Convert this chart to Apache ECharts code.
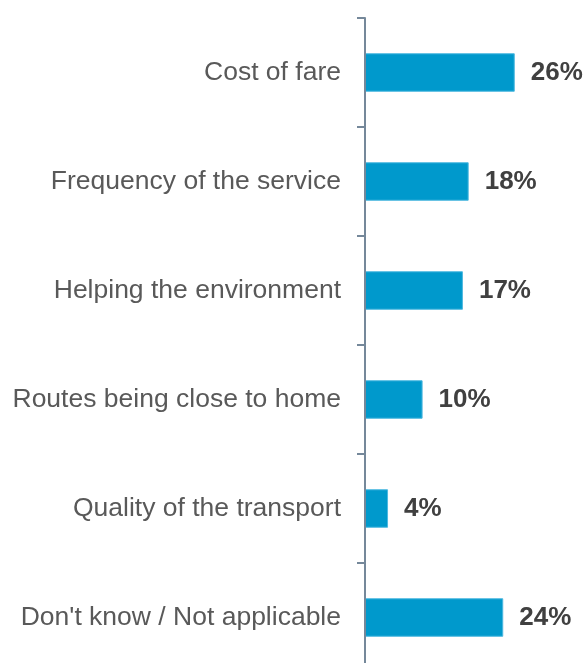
<!DOCTYPE html>
<html>
<head>
<meta charset="utf-8">
<script src="https://cdn.jsdelivr.net/npm/echarts@6/dist/echarts.min.js"></script>
<style>html,body{margin:0;padding:0;background:#fff;}#c{width:586px;height:663px;}</style>
</head>
<body>
<div id="c"></div>
<script>
var categories = ["Cost of fare", "Frequency of the service", "Helping the environment", "Routes being close to home", "Quality of the transport", "Don't know / Not applicable"];
var values = [26, 18, 17, 10, 4, 24];

var chart = echarts.init(document.getElementById('c'), null, {renderer: 'canvas'});
chart.setOption({
  animation: false,
  backgroundColor: '#ffffff',
  grid: {left: 365, top: 18, height: 654, width: 172.8, containLabel: false, outerBoundsMode: 'none'},
  xAxis: {type: 'value', min: 0, max: 30, show: false},
  yAxis: {
    type: 'category', data: categories, inverse: true, z: 5,
    axisLine: {show: true, lineStyle: {color: '#75889a', width: 2}},
    axisTick: {show: true, length: 8, lineStyle: {color: '#75889a', width: 2}},
    axisLabel: {margin: 24, color: '#595959', fontSize: 26.5, fontFamily: 'Liberation Sans, Arial, sans-serif'}
  },
  series: [{
    type: 'bar', data: values, barWidth: 38.5,
    itemStyle: {color: '#0099cc', borderColor: '#4db8e0', borderWidth: 1},
    label: {show: true, position: 'right', distance: 16, formatter: '{c}%', color: '#404040', fontSize: 26, fontWeight: 'bold', fontFamily: 'Liberation Sans, Arial, sans-serif'}
  }]
});
</script>
</body>
</html>
